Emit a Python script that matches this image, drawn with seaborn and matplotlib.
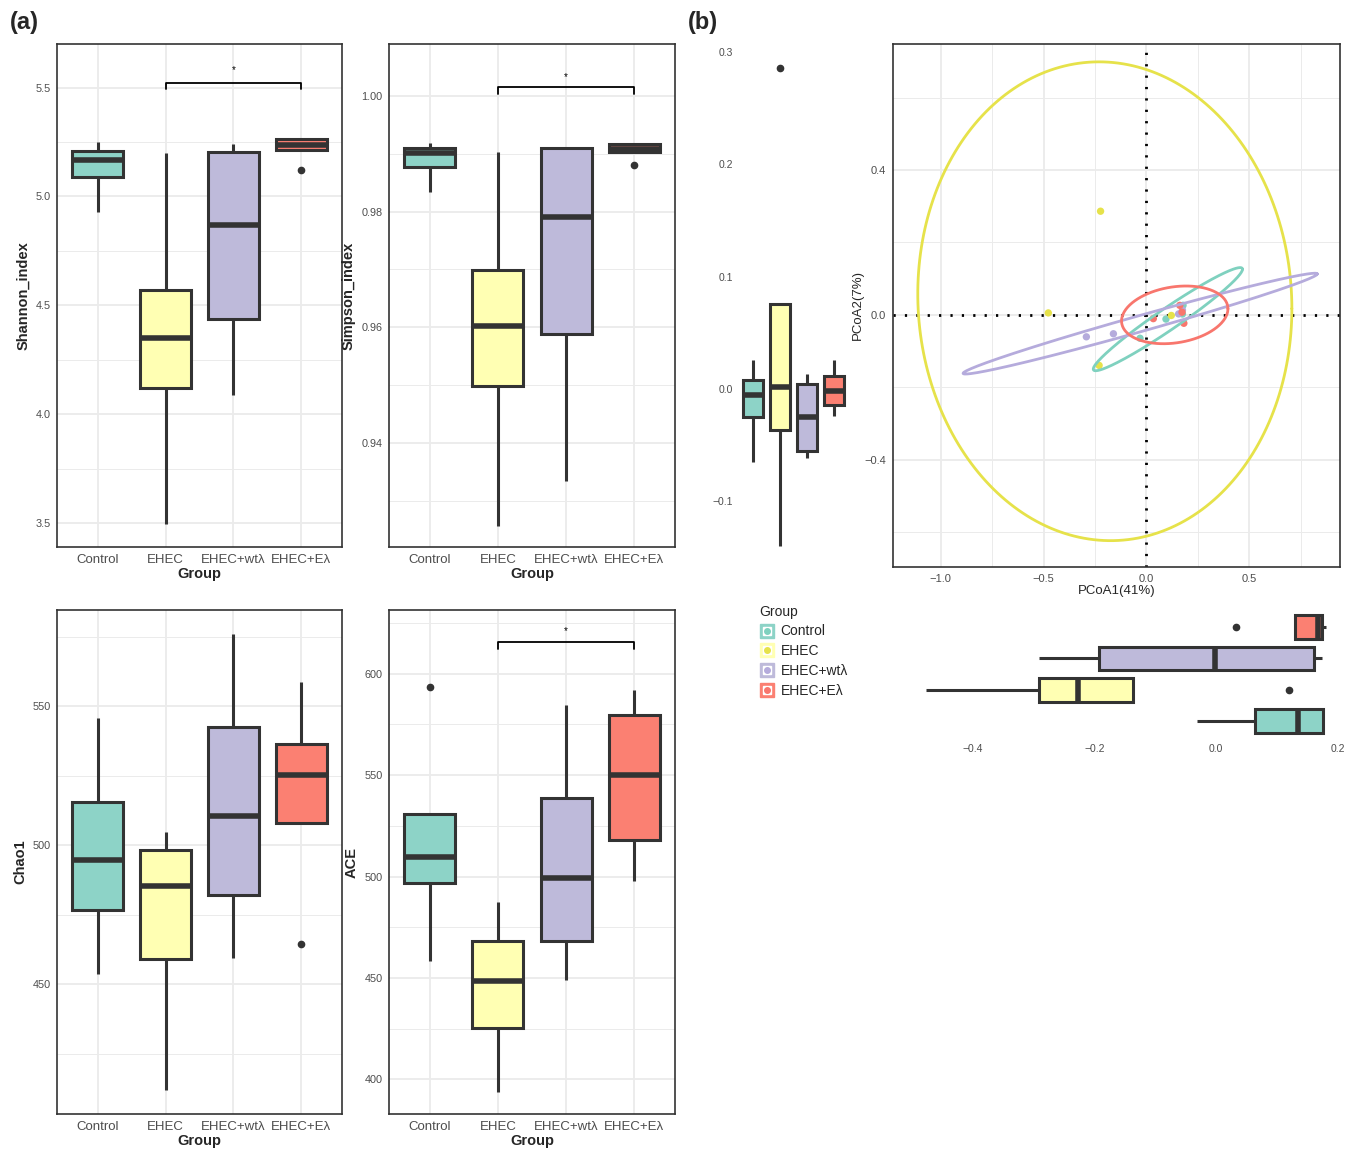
import numpy as np
import pandas as pd
import matplotlib
matplotlib.use("Agg")
import matplotlib.pyplot as plt
from matplotlib.lines import Line2D
from matplotlib.legend_handler import HandlerTuple
import seaborn as sns

sns.set_style("white")
plt.rcParams['font.family'] = ['Liberation Sans', 'DejaVu Sans']

groups = ['Control', 'EHEC', 'EHEC+wtλ', 'EHEC+Eλ']
fills = ['#8DD3C7', '#FFFFB3', '#BEBADA', '#FB8072']
lines = ['#7FD1BF', '#E6E24A', '#B5ABDC', '#F8766D']

# alpha diversity, samples per group
shannon = {
    'Control': [4.929, 5.087, 5.167, 5.207, 5.250],
    'EHEC': [3.494, 4.122, 4.350, 4.570, 5.198],
    'EHEC+wtλ': [4.087, 4.436, 4.871, 5.203, 5.240],
    'EHEC+Eλ': [5.122, 5.213, 5.235, 5.266, 5.266],
}
simpson = {
    'Control': [0.9834, 0.9877, 0.9902, 0.9910, 0.9919],
    'EHEC': [0.9257, 0.9498, 0.9603, 0.9699, 0.9903],
    'EHEC+wtλ': [0.9335, 0.9589, 0.9790, 0.9910, 0.9911],
    'EHEC+Eλ': [0.9880, 0.9903, 0.99085, 0.9917, 0.9917],
}
chao1 = {
    'Control': [453.9, 476.7, 494.7, 515.4, 545.6],
    'EHEC': [412.1, 459.3, 485.5, 498.2, 504.7],
    'EHEC+wtλ': [459.6, 482.0, 510.5, 542.4, 575.9],
    'EHEC+Eλ': [464.5, 508.0, 525.4, 536.3, 558.6],
}
ace = {
    'Control': [458.3, 496.7, 509.7, 530.9, 593.4],
    'EHEC': [393.9, 425.2, 448.6, 468.2, 487.5],
    'EHEC+wtλ': [448.8, 468.4, 499.3, 538.9, 584.4],
    'EHEC+Eλ': [497.7, 517.9, 550.2, 579.5, 591.7],
}

# significance brackets EHEC vs EHEC+Eλ: (bottom, top, star)
shannon_sig = [5.492, 5.523, 5.579]
simpson_sig = [1.0003, 1.0015, 1.0033]
ace_sig = [612.3, 615.5, 621.0]

# PCoA coordinates per sample
pc1 = {
    'Control': [-0.031, 0.095, 0.175, 0.178],
    'EHEC': [-0.223, -0.477, -0.230, 0.121],
    'EHEC+wtλ': [-0.292, -0.1605, 0.1565, 0.175],
    'EHEC+Eλ': [0.0335, 0.162, 0.173, 0.182],
}
pc2 = {
    'Control': [-0.065, -0.012, 0.002, 0.026],
    'EHEC': [0.286, 0.005, -0.140, -0.002],
    'EHEC+wtλ': [-0.061, -0.0526, 0.0022, 0.0131],
    'EHEC+Eλ': [-0.0108, 0.0259, 0.007, -0.0236],
}
ellipse_radius = 3.7

W, H = 1356, 1152
fig = plt.figure(figsize=(W / 100, H / 100), dpi=100)

def box(px_left, px_top, px_right, px_bottom):
    return fig.add_axes([px_left / W, 1 - px_bottom / H,
                         (px_right - px_left) / W, (px_bottom - px_top) / H])

dark = '#333333'
txt = '#4D4D4D'
grid_c = '#EBEBEB'
box_kw = dict(width=0.75, linewidth=2.2, linecolor=dark, showcaps=False,
              fliersize=4.5, saturation=1,
              flierprops=dict(marker='o', markerfacecolor=dark, markeredgecolor=dark),
              medianprops=dict(linewidth=4, color=dark), legend=False)


def to_df(d):
    return pd.DataFrame({'Group': np.repeat(groups, [len(d[g]) for g in groups]),
                         'value': np.concatenate([d[g] for g in groups])})


def alpha_panel(ax, d, ylabel, ylim, yticks, ylabels, minor, sig=None):
    ax.set_axisbelow(True)
    for y in minor:
        ax.axhline(y, color=grid_c, lw=0.7, zorder=0)
    for y in yticks:
        ax.axhline(y, color=grid_c, lw=1.3, zorder=0)
    for x in range(4):
        ax.axvline(x, color=grid_c, lw=1.3, zorder=0)
    sns.boxplot(data=to_df(d), x='Group', y='value', hue='Group', order=groups,
                hue_order=groups, palette=fills, ax=ax, **box_kw)
    ax.set_xlim(-0.6, 3.6)
    ax.set_ylim(*ylim)
    ax.set_yticks(yticks)
    ax.set_yticklabels(ylabels)
    ax.tick_params(axis='y', labelsize=7.8, colors=dark, labelcolor=txt, length=3, width=1, pad=1.5)
    ax.tick_params(axis='x', labelsize=9.5, colors=dark, labelcolor=txt, length=3, width=1, pad=2)
    ax.set_xlabel('Group', fontsize=10.5, fontweight='bold', labelpad=1)
    ax.set_ylabel(ylabel, fontsize=10.5, fontweight='bold', labelpad=4)
    for s in ax.spines.values():
        s.set_color(dark)
        s.set_linewidth(1.2)
    if sig is not None:
        lo, hi, star = sig
        ax.plot([1, 1, 3, 3], [lo, hi, hi, lo], color='black', lw=1.3)
        ax.text(2, star, '*', ha='center', va='center', fontsize=7, color='black')


ax1 = box(57, 44, 342, 547)
alpha_panel(ax1, shannon, 'Shannon_index', (3.39, 5.70), [3.5, 4.0, 4.5, 5.0, 5.5],
            ['3.5', '4.0', '4.5', '5.0', '5.5'], [3.75, 4.25, 4.75, 5.25], shannon_sig)
ax2 = box(389, 44, 675, 547)
alpha_panel(ax2, simpson, 'Simpson_index', (0.922, 1.009), [0.94, 0.96, 0.98, 1.00],
            ['0.94', '0.96', '0.98', '1.00'], [0.93, 0.95, 0.97, 0.99], simpson_sig)
ax3 = box(57, 610, 342, 1114)
alpha_panel(ax3, chao1, 'Chao1', (403.4, 584.6), [450, 500, 550],
            ['450', '500', '550'], [425, 475, 525, 575])
ax4 = box(389, 610, 675, 1114)
alpha_panel(ax4, ace, 'ACE', (383.0, 631.3), [400, 450, 500, 550, 600],
            ['400', '450', '500', '550', '600'], [425, 475, 525, 575, 625], ace_sig)

# PCoA data frame
pcoa = pd.DataFrame({'Group': np.repeat(groups, [len(pc1[g]) for g in groups]),
                     'PC1': np.concatenate([pc1[g] for g in groups]),
                     'PC2': np.concatenate([pc2[g] for g in groups])})

# main PCoA scatter
axp = box(893, 44, 1340, 567)
axp.set_axisbelow(True)
for x in [-0.75, -0.25, 0.25, 0.75]:
    axp.axvline(x, color=grid_c, lw=0.7, zorder=0)
for y in [-0.6, -0.2, 0.2, 0.6]:
    axp.axhline(y, color=grid_c, lw=0.7, zorder=0)
for x in [-1.0, -0.5, 0.0, 0.5]:
    axp.axvline(x, color=grid_c, lw=1.3, zorder=0)
for y in [-0.4, 0.0, 0.4]:
    axp.axhline(y, color=grid_c, lw=1.3, zorder=0)
axp.axvline(0, color='black', lw=2.0, ls=(0, (0.8, 3.3)), zorder=1)
axp.axhline(0, color='black', lw=2.0, ls=(0, (0.8, 3.3)), zorder=1)
sns.scatterplot(data=pcoa, x='PC1', y='PC2', hue='Group', hue_order=groups,
                palette=lines, s=28, edgecolor='none', legend=False, ax=axp, zorder=2)
t = np.linspace(0, 2 * np.pi, 240)
for g, c in zip(groups, lines):
    pts = np.vstack([pc1[g], pc2[g]])
    mu = pts.mean(axis=1, keepdims=True)
    L = np.linalg.cholesky(np.cov(pts))
    ring = mu + ellipse_radius * L @ np.vstack([np.cos(t), np.sin(t)])
    axp.plot(ring[0], ring[1], color=c, lw=2.0, zorder=3)
axp.set_xlim(-1.232, 0.941)
axp.set_ylim(-0.697, 0.748)
axp.set_xticks([-1.0, -0.5, 0.0, 0.5])
axp.set_yticks([-0.4, 0.0, 0.4])
axp.tick_params(labelsize=8, colors=dark, labelcolor=txt, length=3, width=1, pad=2)
axp.set_xlabel('PCoA1(41%)', fontsize=9.5, labelpad=1)
axp.set_ylabel('PCoA2(7%)', fontsize=9.5, labelpad=0)
for s in axp.spines.values():
    s.set_color(dark)
    s.set_linewidth(1.2)

# marginal box of PCoA2
axl = box(737, 44, 850, 570)
axl.set_facecolor('none')
sns.boxplot(data=pcoa, x='Group', y='PC2', hue='Group', order=groups, hue_order=groups,
            palette=fills, ax=axl, **box_kw)
axl.set_xlim(-0.6, 3.6)
axl.set_ylim(-0.161, 0.307)
axl.set_yticks([-0.1, 0.0, 0.1, 0.2, 0.3])
axl.set_xticks([])
axl.set_xlabel('')
axl.set_ylabel('')
axl.tick_params(axis='y', labelsize=7.5, colors=dark, labelcolor=txt, length=2, width=1.5, pad=1)
for s in axl.spines.values():
    s.set_visible(False)

# marginal box of PCoA1
axb = box(893, 608, 1342, 740)
axb.set_facecolor('none')
sns.boxplot(data=pcoa, x='PC1', y='Group', hue='Group', order=groups[::-1], hue_order=groups,
            palette=fills, ax=axb, **box_kw)
axb.set_ylim(3.6, -0.6)
axb.set_xlim(-0.532, 0.2076)
axb.set_xticks([-0.4, -0.2, 0.0, 0.2])
axb.set_yticks([])
axb.set_xlabel('')
axb.set_ylabel('')
axb.tick_params(axis='x', labelsize=7.5, colors=dark, labelcolor=txt, length=2, width=1.5, pad=1)
for s in axb.spines.values():
    s.set_visible(False)

# legend
handles = []
for f, c in zip(fills, lines):
    handles.append((Line2D([], [], ls='', marker='s', ms=10, mfc=f, mec=f),
                    Line2D([], [], ls='', marker='s', ms=6, mfc='white', mec='white'),
                    Line2D([], [], ls='', marker='o', ms=4, mfc=c, mec=c)))
leg = fig.legend(handles, groups, title='Group', loc='upper left',
                 bbox_to_anchor=(754 / W, 1 - 599 / H), frameon=False, fontsize=10,
                 title_fontsize=10, handlelength=1.0, handletextpad=0.5,
                 labelspacing=0.42, borderaxespad=0, alignment='left',
                 handler_map={tuple: HandlerTuple(ndivide=1)})

fig.text(10 / W, 1 - 22 / H, '(a)', fontsize=17, fontweight='bold', va='center')
fig.text(688 / W, 1 - 22 / H, '(b)', fontsize=17, fontweight='bold', va='center')

fig.savefig('out.png', dpi=100)
